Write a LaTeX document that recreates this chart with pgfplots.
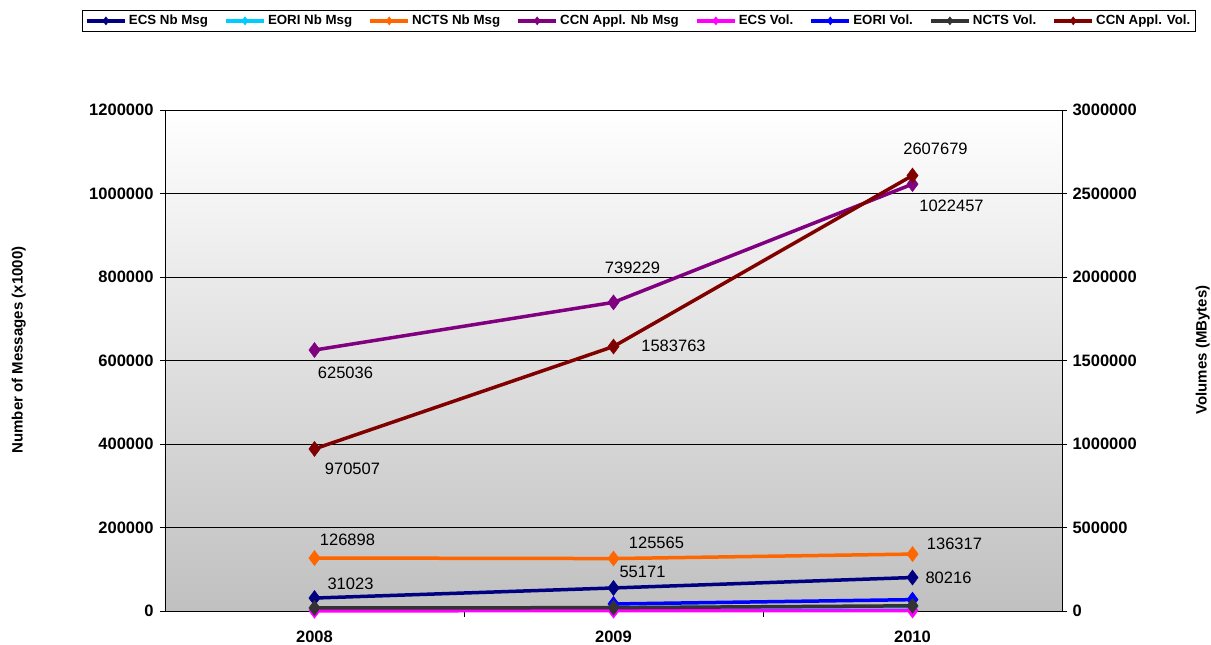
\documentclass[border=0pt]{standalone}
\usepackage{pgfplots}
\pgfplotsset{compat=1.18}
\usepackage{fontspec}
\setmainfont{Liberation Sans}
\definecolor{cNavy}{RGB}{0,0,128}
\definecolor{cCyan}{RGB}{0,204,255}
\definecolor{cOrange}{RGB}{255,102,0}
\definecolor{cPurple}{RGB}{128,0,128}
\definecolor{cMag}{RGB}{255,0,255}
\definecolor{cBlue}{RGB}{0,0,255}
\definecolor{cGray}{RGB}{51,51,51}
\definecolor{cRed}{RGB}{128,0,0}
\definecolor{bgBot}{RGB}{192,192,192}
\tikzset{lbl/.style={font=\fontsize{16.5}{16.5}\selectfont, anchor=center}}
\pgfplotsset{
  ser/.style={color=#1, line width=3.5pt, mark=diamond*, mark size=7.5pt, mark options={solid, line width=0.5pt}},
  common/.style={
    at={(165pt,34pt)}, anchor=south west, scale only axis,
    width=897pt, height=501pt, clip=false,
    xmin=-0.5, xmax=2.5, ymin=0,
    scaled y ticks=false,
    /pgf/number format/assume math mode=true,
    yticklabel style={/pgf/number format/fixed,/pgf/number format/1000 sep={}},
    ticklabel style={font=\fontsize{16.5}{16.5}\selectfont\bfseries},
    tick align=outside, major tick length=5pt,
    tick style={black, line width=0.6pt},
    axis line style={black, line width=0.8pt},
    legend image code/.code={\draw[mark repeat=2,mark phase=2,#1, line width=4pt, mark size=4pt] plot coordinates {(0pt,0pt)(19pt,0pt)(38pt,0pt)};},
  },
}
\begin{document}
\begin{tikzpicture}[x=1pt,y=1pt]
\useasboundingbox (0,0) rectangle (1211,645);
\begin{axis}[common,
  ymax=1200000,
  axis y line*=left, axis x line*=bottom,
  xtick={0,1,2}, xticklabels={2008,2009,2010},
  minor xtick={0.5,1.5}, minor tick length=6pt,
  major x tick style={draw=none},
  xticklabel style={yshift=-11pt},
  yticklabel style={xshift=-3pt},
  ytick={0,200000,400000,600000,800000,1000000,1200000},
  ymajorgrids, grid style={black, line width=0.5pt},
  axis background/.style={top color=white, bottom color=bgBot},
  ylabel={Number of Messages (x1000)},
  every axis y label/.style={at={(axis description cs:-0.163,0.521)}, rotate=90, anchor=center, font=\fontsize{15}{15}\selectfont\bfseries},
]
\addplot[ser=cNavy] coordinates {(0,31023)(1,55171)(2,80216)};
\addplot[ser=cCyan] coordinates {(1,8000)(2,10000)};
\addplot[ser=cOrange] coordinates {(0,126898)(1,125565)(2,136317)};
\addplot[ser=cPurple] coordinates {(0,625036)(1,739229)(2,1022457)};
\node[lbl, xshift=36pt, yshift=14pt] at (axis cs:0,31023) {31023};
\node[lbl, xshift=29pt, yshift=16pt] at (axis cs:1,55171) {55171};
\node[lbl, xshift=36pt, yshift=0pt] at (axis cs:2,80216) {80216};
\node[lbl, xshift=33pt, yshift=18pt] at (axis cs:0,126898) {126898};
\node[lbl, xshift=43pt, yshift=16pt] at (axis cs:1,125565) {125565};
\node[lbl, xshift=42pt, yshift=10pt] at (axis cs:2,136317) {136317};
\node[lbl, xshift=31pt, yshift=-23pt] at (axis cs:0,625036) {625036};
\node[lbl, xshift=19pt, yshift=35pt] at (axis cs:1,739229) {739229};
\node[lbl, xshift=39pt, yshift=-22pt] at (axis cs:2,1022457) {1022457};
\end{axis}
\begin{axis}[common,
  ymax=3000000,
  axis y line*=right, axis x line=none,
  ytick={0,500000,1000000,1500000,2000000,2500000,3000000},
  yticklabel style={xshift=2pt},
  ylabel={Volumes (MBytes)},
  every axis y label/.style={at={(axis description cs:1.157,0.521)}, rotate=90, anchor=center, font=\fontsize{15}{15}\selectfont\bfseries},
  legend columns=8,
  legend style={at={(0.528,1.1996)}, anchor=north, draw=black, line width=0.6pt,
    font=\fontsize{13.3}{13.3}\selectfont\bfseries, inner sep=3pt,
    /tikz/every even column/.append style={column sep=14pt}},
]
\addlegendimage{ser=cNavy}\addlegendentry{ECS Nb Msg}
\addlegendimage{ser=cCyan}\addlegendentry{EORI Nb Msg}
\addlegendimage{ser=cOrange}\addlegendentry{NCTS Nb Msg}
\addlegendimage{ser=cPurple}\addlegendentry{CCN Appl. Nb Msg}
\addplot[ser=cMag] coordinates {(0,1000)(1,2000)(2,3000)};\addlegendentry{ECS Vol.}
\addplot[ser=cBlue] coordinates {(1,42000)(2,68000)};\addlegendentry{EORI Vol.}
\addplot[ser=cGray] coordinates {(0,18000)(1,20000)(2,31000)};\addlegendentry{NCTS Vol.}
\addplot[ser=cRed] coordinates {(0,970507)(1,1583763)(2,2607679)};\addlegendentry{CCN Appl. Vol.}
\node[lbl, xshift=38pt, yshift=-20pt] at (axis cs:0,970507) {970507};
\node[lbl, xshift=60pt, yshift=1pt] at (axis cs:1,1583763) {1583763};
\node[lbl, xshift=23pt, yshift=27pt] at (axis cs:2,2607679) {2607679};
\end{axis}
\end{tikzpicture}
\end{document}
